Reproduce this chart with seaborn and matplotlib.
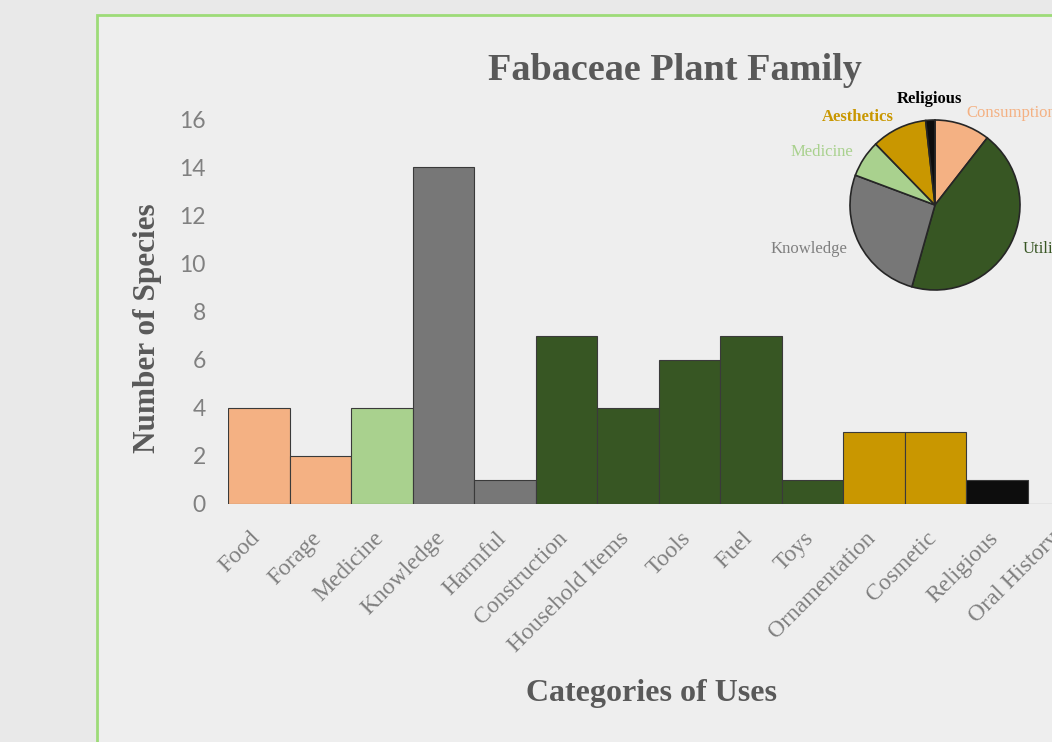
import matplotlib
matplotlib.use("Agg")
import matplotlib.pyplot as plt
import matplotlib.transforms as mtransforms
import seaborn as sns
import pandas as pd
from matplotlib.patches import Rectangle

# ---------------- data ----------------
categories = ["Food", "Forage", "Medicine", "Knowledge", "Harmful", "Construction",
              "Household Items", "Tools", "Fuel", "Toys", "Ornamentation", "Cosmetic",
              "Religious", "Oral History"]
species_counts = [4, 2, 4, 14, 1, 7, 4, 6, 7, 1, 3, 3, 1, 0]
bar_groups = ["Consumption", "Consumption", "Medicine", "Knowledge", "Knowledge",
              "Utility", "Utility", "Utility", "Utility", "Utility",
              "Aesthetics", "Aesthetics", "Religious", "Oral History"]
y_ticks = [0, 2, 4, 6, 8, 10, 12, 14, 16]

pie_labels = ["Consumption", "Utility", "Knowledge", "Medicine", "Aesthetics", "Religious"]
pie_values = [6, 25, 15, 4, 6, 1]

group_colors = {
    "Consumption": "#f4b183",
    "Medicine": "#a9d18e",
    "Knowledge": "#777777",
    "Utility": "#375623",
    "Aesthetics": "#c99700",
    "Religious": "#0d0d0d",
    "Oral History": "#777777",
}

# ---------------- figure ----------------
sns.set_theme(style="white")
plt.rcParams["font.family"] = ["Liberation Serif", "DejaVu Serif"]

W, H = 1052, 742
fig = plt.figure(figsize=(W / 100, H / 100), dpi=100, facecolor="#e9e9e9")

# chart frame (green border)
fig.patches.append(Rectangle((97 / W, -0.02), 1.0, 1 - 15 / H + 0.02,
                             transform=fig.transFigure, facecolor="#eeeeee",
                             edgecolor="#9ddb78", linewidth=2, zorder=-10))

ax = fig.add_axes([228 / W, (H - 504) / H, 861 / W, 385 / H])
ax.set_facecolor("none")

df = pd.DataFrame({"Category": categories, "Species": species_counts, "Group": bar_groups})
bar_colors = [group_colors[g] for g in bar_groups]
sns.barplot(data=df, x="Category", y="Species", hue="Category", palette=bar_colors,
            legend=False, width=1.0, saturation=1, edgecolor="#3a3a3a",
            linewidth=0.8, ax=ax)

ax.set_ylim(0, 16)
ax.set_xlim(-0.5, len(categories) - 0.5)
ax.set_yticks(y_ticks)
sns.despine(ax=ax, left=True, bottom=True)
ax.grid(False)

ax.tick_params(axis="y", length=0, pad=16, labelsize=16.5, labelcolor="#808080")
for t in ax.get_yticklabels():
    t.set_fontfamily("Lato")
ax.tick_params(axis="x", length=0, pad=17)
ax.set_xticks(range(len(categories)))
ax.set_xticklabels(categories, rotation=45, ha="right", rotation_mode="anchor",
                   fontsize=17, color="#808080")
shift = mtransforms.ScaledTranslation(-9 / 100, 0, fig.dpi_scale_trans)
for t in ax.get_xticklabels():
    t.set_transform(t.get_transform() + shift)

ax.set_xlabel("Categories of Uses", fontsize=23, fontweight="bold", color="#595959")
ax.xaxis.set_label_coords((652 - 228) / 861, (504 - 693) / 385)
ax.xaxis.label.set_va("center")
ax.set_ylabel("Number of Species", fontsize=22.5, fontweight="bold", color="#595959")
ax.yaxis.set_label_coords((147 - 228) / 861, (504 - 328) / 385)
ax.yaxis.label.set_va("center")

fig.text(675 / W, 1 - 70 / H, "Fabaceae Plant Family", ha="center", va="center",
         fontsize=27.5, fontweight="bold", color="#595959")

# ---------------- inset pie ----------------
r = 85
pax = fig.add_axes([(935 - 1.25 * r) / W, (H - 205 - 1.25 * r) / H, 2.5 * r / W, 2.5 * r / H])
pie_colors = [group_colors[l] for l in pie_labels]
wedges, texts = pax.pie(pie_values, labels=pie_labels, colors=pie_colors, startangle=90,
                        counterclock=False, labeldistance=1.15,
                        wedgeprops=dict(edgecolor="#262626", linewidth=1.2),
                        textprops=dict(fontsize=12))
label_colors = {"Consumption": "#f4b183", "Utility": "#375623", "Knowledge": "#7f7f7f",
                "Medicine": "#a9d18e", "Aesthetics": "#c99700", "Religious": "#000000"}
for t in texts:
    lab = t.get_text()
    t.set_color(label_colors[lab])
    if lab in ("Religious", "Aesthetics"):
        t.set_fontweight("bold")
    if lab == "Religious":
        t.set_ha("center")
        t.set_va("bottom")
pax.set_aspect("equal")

fig.savefig("out.png", dpi=100, facecolor=fig.get_facecolor())
